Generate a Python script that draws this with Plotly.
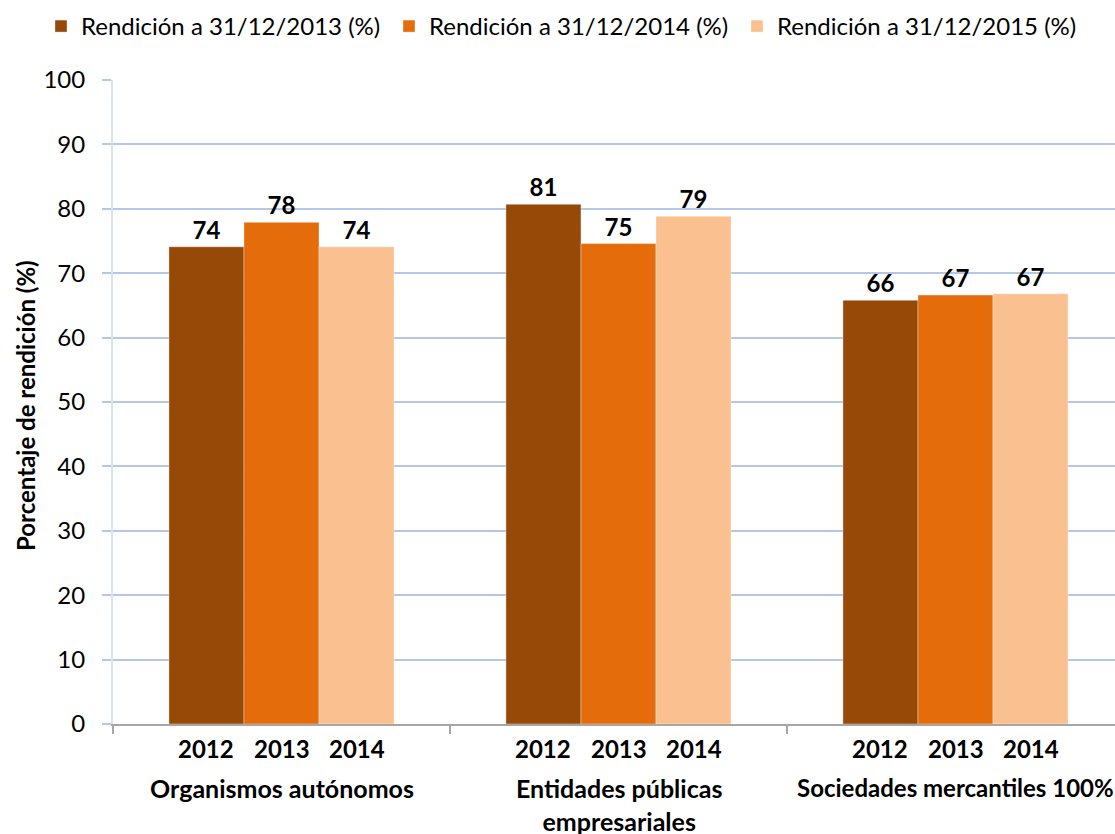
import plotly.graph_objects as go

categories = ["Organismos autónomos", "Entidades públicas<br>empresariales", "Sociedades mercantiles 100%"]
series_names = ["Rendición a 31/12/2013 (%)", "Rendición a 31/12/2014 (%)", "Rendición a 31/12/2015 (%)"]
vals_2013 = [74.1, 80.7, 65.8]
vals_2014 = [77.9, 74.6, 66.6]
vals_2015 = [74.1, 78.85, 66.8]
year_labels = ["2012", "2013", "2014"]
colors = ["#974907", "#e46c0a", "#fac090"]

FONT = "Lato"
W, H = 1115, 834
ML, MR, MT, MB = 113, 0, 80, 110
PW, PH = W - ML - MR, H - MT - MB
x_pos = list(range(len(categories)))
bar_w = 0.2226


def px_x(p):
    return (p - ML) / PW


def px_y(p):
    return (H - MB - p) / PH


fig = go.Figure()
for name, vals, col in zip(series_names, [vals_2013, vals_2014, vals_2015], colors):
    fig.add_trace(go.Bar(
        x=x_pos, y=vals, name=name, width=bar_w,
        marker=dict(color=col, line=dict(color="rgba(255,255,255,0.6)", width=0.6)),
        texttemplate="%{y:.0f}", textposition="outside",
        textfont=dict(family=FONT, size=24, color="black", weight="bold"),
        cliponaxis=False,
    ))

annotations = []
# year labels below each bar
for i in x_pos:
    for j, yl in enumerate(year_labels):
        annotations.append(dict(
            x=i + (j - 1) * bar_w, y=px_y(748), xref="x", yref="paper",
            text=f"<b>{yl}</b>", showarrow=False, yanchor="middle", xanchor="center",
            font=dict(family=FONT, size=24, color="black")))
# category labels
for i, c in zip(x_pos, categories):
    annotations.append(dict(
        x=i, y=px_y(771), xref="x", yref="paper", text=f"<b>{c}</b>",
        showarrow=False, yanchor="top", xanchor="center",
        font=dict(family=FONT, size=24 if i == 2 else 25, color="black")))
# y-axis title
annotations.append(dict(
    x=px_x(25), y=px_y(406), xref="paper", yref="paper",
    text="<b>Porcentaje de rendición (%)</b>", textangle=-90, showarrow=False,
    xanchor="center", yanchor="middle", font=dict(family=FONT, size=24, color="black")))

fig.update_layout(
    width=W, height=H,
    margin=dict(l=ML, r=MR, t=MT, b=MB, autoexpand=False),
    plot_bgcolor="white", paper_bgcolor="white",
    barmode="group", bargap=0.332, bargroupgap=0,
    font=dict(family=FONT, size=24, color="black"),
    showlegend=True,
    legend=dict(orientation="h", xref="paper", yref="paper",
                x=px_x(41), y=px_y(26.5), xanchor="left", yanchor="middle",
                font=dict(family=FONT, size=24, color="black"),
                entrywidth=303, entrywidthmode="pixels", bgcolor="rgba(0,0,0,0)"),
    annotations=annotations,
    xaxis=dict(range=[-0.5, PW / 337 - 0.5], showgrid=False, zeroline=False,
               showline=True, linecolor="#a6a6a6", linewidth=1.5,
               tickvals=[-0.5, 0.5, 1.5, 2.5], ticktext=["", "", "", ""],
               ticks="outside", ticklen=8, tickcolor="#a6a6a6", tickwidth=1.5),
    yaxis=dict(range=[0, 100], dtick=10, showgrid=True, gridcolor="#b4c7e7", gridwidth=1.5,
               zeroline=False, showline=True, linecolor="#dae3f3", linewidth=2,
               ticks="outside", ticklen=9, tickcolor="#b4c7e7", tickwidth=1.5,
               ticklabelstandoff=12,
               tickfont=dict(family=FONT, size=24, color="black")),
)
fig.write_html("out.html", config={"displayModeBar": False},
               post_script="document.body.style.margin='0';document.body.style.overflow='hidden';")
